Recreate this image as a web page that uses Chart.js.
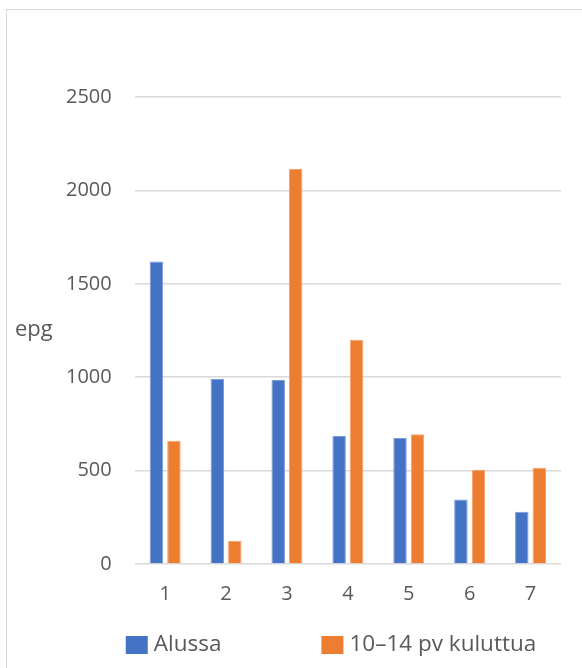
<!DOCTYPE html>
<html>
<head>
<meta charset="utf-8">
<script src="https://cdn.jsdelivr.net/npm/chart.js@4/dist/chart.umd.min.js"></script>
<style>
  html, body { margin: 0; padding: 0; background: #fff; overflow: hidden; }
  body { width: 582px; height: 668px; position: relative; }
  #frame {
    position: absolute; left: 6px; top: 9px;
    width: 648px; height: 659px;
    border-left: 1.5px solid #d9d9d9; border-top: 1.5px solid #d9d9d9;
    background: #fff;
  }
  #frame canvas { display: block; }
</style>
</head>
<body>
<div id="frame"><canvas id="c" width="648" height="659"></canvas></div>
<script>
// Categories and the two measured series
const categories = ['1', '2', '3', '4', '5', '6', '7'];
const alussa = [1620, 990, 985, 685, 675, 345, 280];
const kuluttua = [660, 125, 2115, 1200, 695, 505, 515];
const seriesNames = ['Alussa', '10–14 pv kuluttua'];
const yTicks = [0, 500, 1000, 1500, 2000, 2500];
const yTitle = 'epg';

const FONT = "'Open Sans', 'DejaVu Sans', sans-serif";
const TEXT = '#595959';

// Horizontal axis title drawn to the left of the value axis
const sideTitle = {
  id: 'sideTitle',
  afterDraw(chart) {
    const { ctx, chartArea } = chart;
    ctx.save();
    ctx.font = `22px ${FONT}`;
    ctx.fillStyle = TEXT;
    ctx.textAlign = 'left';
    ctx.textBaseline = 'middle';
    ctx.fillText(yTitle, 8, (chartArea.top + chartArea.bottom) / 2 - 1);
    ctx.restore();
  }
};

// Single-row legend under the axis, centred on the chart frame
const bottomLegend = {
  id: 'bottomLegend',
  afterDraw(chart) {
    const { ctx } = chart;
    const boxW = 22, boxH = 18, textGap = 6, itemGap = 100;
    const y = 635;
    ctx.save();
    ctx.font = `22.5px ${FONT}`;
    const items = chart.data.datasets.map(ds => ({
      text: ds.label, color: ds.backgroundColor, w: ctx.measureText(ds.label).width
    }));
    const total = items.reduce((s, it) => s + boxW + textGap + it.w, 0) + itemGap * (items.length - 1);
    let x = chart.width / 2 - total / 2;
    ctx.textAlign = 'left';
    ctx.textBaseline = 'middle';
    items.forEach(it => {
      ctx.fillStyle = it.color;
      ctx.fillRect(x, y - boxH / 2, boxW, boxH);
      x += boxW + textGap;
      ctx.fillStyle = TEXT;
      ctx.fillText(it.text, x, y);
      x += it.w + itemGap;
    });
    ctx.restore();
  }
};

new Chart(document.getElementById('c'), {
  type: 'bar',
  data: {
    labels: categories,
    datasets: [
      { label: seriesNames[0], data: alussa, backgroundColor: '#4472C4', borderColor: '#7d9bd6', borderWidth: 1 },
      { label: seriesNames[1], data: kuluttua, backgroundColor: '#ED7D31', borderColor: '#f3a36e', borderWidth: 1 }
    ]
  },
  options: {
    responsive: false,
    animation: false,
    datasets: { bar: { categoryPercentage: 0.575, barPercentage: 0.77 } },
    layout: { padding: { left: 36, right: 94, top: 87, bottom: 45 } },
    scales: {
      x: {
        grid: { display: false, drawTicks: false },
        border: { display: false },
        ticks: { color: TEXT, font: { family: FONT, size: 20 }, padding: 18 }
      },
      y: {
        min: 0, max: 2500,
        afterBuildTicks(axis) { axis.ticks = yTicks.map(v => ({ value: v })); },
        grid: { color: '#d9d9d9', lineWidth: 1.5, drawTicks: false },
        border: { display: false },
        ticks: { color: TEXT, font: { family: FONT, size: 20 }, padding: 23, callback: v => String(v) }
      }
    },
    plugins: {
      legend: { display: false },
      tooltip: { enabled: false }
    }
  },
  plugins: [sideTitle, bottomLegend]
});
</script>
</body>
</html>
